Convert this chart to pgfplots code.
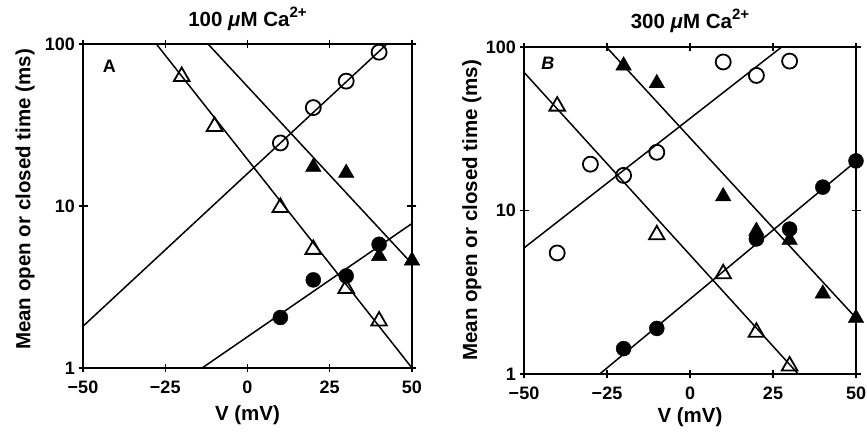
\documentclass[border=0pt]{standalone}
\usepackage{pgfplots}
\pgfplotsset{compat=1.18}
\usepackage{fontspec}
\setmainfont{Liberation Sans}

\newcommand{\tickfont}{\bfseries\fontsize{18}{20}\selectfont}
\newcommand{\labfont}{\bfseries\fontsize{20.5}{22}\selectfont}
\newcommand{\supnum}[1]{\raisebox{0.45em}{\fontsize{15}{15}\selectfont #1}}

\pgfplotsset{
  fitline/.style={no marks, line width=1.5pt},
  opencirc/.style={only marks, mark=o, mark size=7.5pt, line width=1.8pt},
  fillcirc/.style={only marks, mark=*, mark size=7.5pt},
  opentri/.style={only marks, mark=triangle, mark size=9pt, line width=1.8pt},
  filltri/.style={only marks, mark=triangle*, mark size=9pt},
}

\begin{document}
\begin{tikzpicture}
\path[use as bounding box] (0pt,0pt) rectangle (867pt,434pt);

% panel A: 100 uM Ca
\begin{axis}[
  scale only axis,
  ymode=log,
  xmin=-50, xmax=50, ymin=1, ymax=100,
  xtick={-50,-25,0,25,50},
  xticklabels={−50,−25,0,25,50},
  ytick={1,10,100},
  yticklabels={1,10,100},
  yminorticks=false,
  tick align=center,
  major tick length=9pt,
  tick style={black, line width=1.4pt},
  axis line style={line width=1.6pt},
  ticklabel style={font=\tickfont},
  xticklabel style={yshift=-5pt},
  label style={font=\labfont},
  title style={font=\labfont, at={(axis description cs:0.5,1)}, anchor=base, yshift=11pt},
  xlabel={V (mV)},
  ylabel={Mean open or closed time (ms)},
  at={(83pt,66pt)}, anchor=south west, width=329pt, height=324pt,
  title={100 \textit{μ}M Ca\supnum{2+}},
  ylabel style={at={(axis description cs:-0.176,0.52)}, anchor=center},
  xlabel style={at={(axis description cs:0.5,0)}, anchor=base, yshift=-52pt},
]
\addplot[fitline] coordinates {(-50,1.81) (42.4,100)};
\addplot[fitline] coordinates {(-13.8,1) (50,7.8)};
\addplot[fitline] coordinates {(-27.7,100) (50,1)};
\addplot[fitline] coordinates {(-12,100) (50,4.4)};
\addplot[opencirc] coordinates {(10,24.5) (20,40.5) (30,59) (40,89)};
\addplot[fillcirc] coordinates {(10,2.05) (20,3.5) (30,3.7) (40,5.8)};
\addplot[opentri] coordinates {(-20,63) (-10,31) (10,9.8) (20,5.4) (30,3.1) (40,1.95)};
\addplot[filltri] coordinates {(20,17.4) (30,16) (40,4.9) (50,4.6)};
\node[font=\tickfont] at (axis cs:-42,73) {A};
\end{axis}

% panel B: 300 uM Ca
\begin{axis}[
  scale only axis,
  ymode=log,
  xmin=-50, xmax=50, ymin=1, ymax=100,
  xtick={-50,-25,0,25,50},
  xticklabels={−50,−25,0,25,50},
  ytick={1,10,100},
  yticklabels={1,10,100},
  yminorticks=false,
  tick align=center,
  major tick length=9pt,
  tick style={black, line width=1.4pt},
  axis line style={line width=1.6pt},
  ticklabel style={font=\tickfont},
  xticklabel style={yshift=-5pt},
  label style={font=\labfont},
  title style={font=\labfont, at={(axis description cs:0.5,1)}, anchor=base, yshift=12pt},
  xlabel={V (mV)},
  ylabel={Mean open or closed time (ms)},
  at={(524pt,60pt)}, anchor=south west, width=332pt, height=327pt,
  title={300 \textit{μ}M Ca\supnum{2+}},
  ylabel style={at={(axis description cs:-0.157,0.5)}, anchor=center},
  xlabel style={at={(axis description cs:0.5,0)}, anchor=base, yshift=-48pt},
]
\addplot[fitline] coordinates {(-50,5.9) (27.6,100)};
\addplot[fitline] coordinates {(-27.2,1) (50,20)};
\addplot[fitline] coordinates {(-50,70) (32.6,1)};
\addplot[fitline] coordinates {(-25.2,100) (50,2.2)};
\addplot[opencirc] coordinates {(-40,5.5) (-30,19.2) (-20,16.4) (-10,22.7) (10,81) (20,67) (30,82)};
\addplot[fillcirc] coordinates {(-20,1.43) (-10,1.9) (20,6.7) (30,7.7) (40,13.9) (50,20.1)};
\addplot[opentri] coordinates {(-40,43.5) (-10,7.1) (10,4.1) (20,1.8) (30,1.12)};
\addplot[filltri] coordinates {(-20,77) (-10,60) (10,12.2) (20,7.5) (30,6.6) (40,3.1) (50,2.2)};
\node[font=\tickfont] at (axis cs:-42.8,79) {\itshape B};
\end{axis}
\end{tikzpicture}
\end{document}
